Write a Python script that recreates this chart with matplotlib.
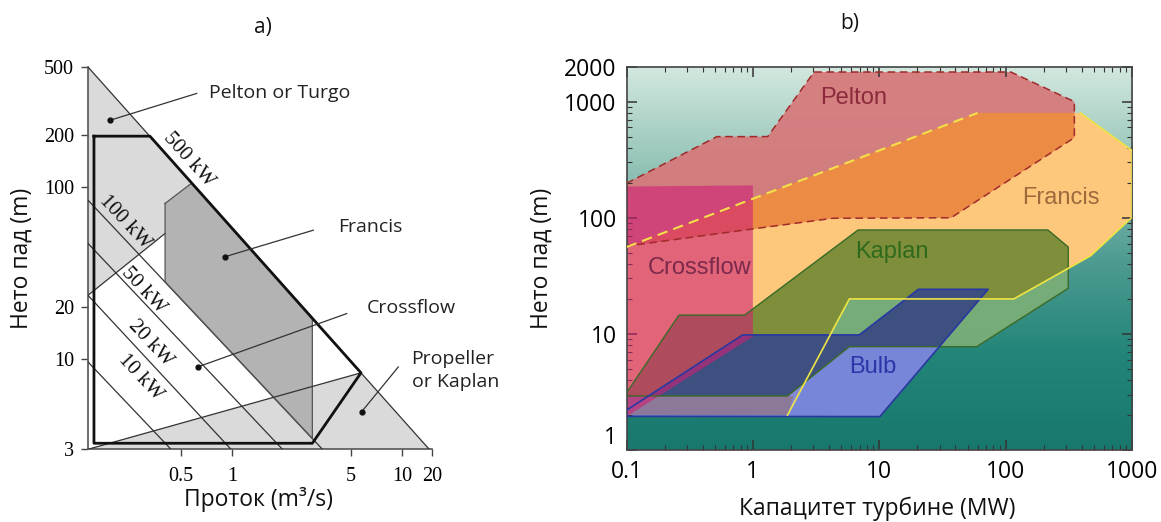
import numpy as np
import matplotlib
matplotlib.use('Agg')
import matplotlib.pyplot as plt
from matplotlib.colors import LinearSegmentedColormap
from matplotlib.ticker import NullLocator, LogLocator

# ---------------- panel a: flow (m3/s) vs net head (m) ----------------
a_xlim = (0.143, 14.9)
a_ylim = (3, 500)
a_xticks = [0.5, 1, 5, 10, 14.9]
a_xticklabels = ['0.5', '1', '5', '10', '20']
a_yticks = [3, 10, 20, 100, 200, 500]

tri_q = [0.143, 14.3]           # outer triangle hypotenuse
tri_h = [500, 3]
pelton_zone_q = [0.143, 0.58, 0.405, 0.405, 0.143]
pelton_zone_h = [500, 105.6, 80.4, 53.8, 23.5]
kaplan_zone_q = [0.145, 5.71, 14.3]
kaplan_zone_h = [3, 8.32, 3]
francis_zone_q = [0.405, 0.58, 2.96, 2.96, 0.405, 0.405]
francis_zone_h = [80.4, 105.6, 17.3, 3.45, 28.1, 80.4]
envelope_q = [0.155, 0.33, 5.71, 2.96, 0.155, 0.155]
envelope_h = [198, 198, 8.32, 3.24, 3.24, 198]

power_left_q = 0.143
power_h_left = [9.62, 23.5, 47.1, 84]        # head where the line meets the y axis
power_q_bottom = [0.437, 0.983, 1.97, 3.38]  # flow where the line meets H = 3
power_names = ['10 kW', '20 kW', '50 kW', '100 kW', '500 kW']
power_label_q = [0.289, 0.334, 0.302, 0.236, 0.554]
power_label_h = [7.85, 12.3, 25.2, 62.6, 143.5]

zone_names = ['Pelton or Turgo', 'Francis', 'Crossflow', 'Propeller\nor Kaplan']
dot_q = [0.1925, 0.91, 0.629, 5.76]
dot_h = [245, 39.4, 9.0, 4.94]
end_q = [0.621, 3.0, 4.71, 9.45]
end_h = [351, 56.2, 18.4, 9.0]
zone_label_q = [0.733, 4.2, 6.17, 11.3]
zone_label_h = [351, 58.5, 19.7, 8.63]

# ---------------- panel b: turbine capacity (MW) vs net head (m) ----------------
b_xticks = [0.1, 1, 10, 100, 1000]
b_xticklabels = ['0.1', '1', '10', '100', '1000']
b_yticks = [1, 10, 100, 1000, 2000]
b_yticklabels = ['1', '10', '100', '1000', '2000']

francis_p = [0.1, 60, 390, 1000, 1000, 470, 116, 5.8, 1.88, 0.1]
francis_h = [56, 800, 800, 380, 101, 47, 20, 20, 2.0, 2.0]
pelton_p = [0.1, 0.52, 1.31, 3.05, 110, 350, 350, 37, 4.3, 1.07, 0.1]
pelton_h = [198, 500, 500, 1800, 1800, 1000, 490, 100, 99, 81, 57]
kaplan_p = [0.1, 1.88, 5.8, 59, 313, 313, 216, 6.8, 0.86, 0.26, 0.1]
kaplan_h = [2.92, 2.92, 7.76, 7.76, 24.7, 56, 78.5, 78.5, 14.5, 14.5, 3.1]
crossflow_p = [0.1, 1, 1, 0.1]
crossflow_h = [186, 190, 9.5, 1.94]
bulb_p = [0.1, 10.1, 72.8, 20.4, 6.95, 0.83, 0.1]
bulb_h = [1.95, 1.94, 24.2, 24.2, 9.8, 9.8, 2.2]

# overlap areas, as they appear in the picture
pelton_francis_p = [0.1, 60, 350, 350, 37, 4.3, 1.07, 0.1]
pelton_francis_h = [56, 800, 800, 490, 100, 99, 81, 57]
kaplan_francis_p = [0.1, 1.88, 2.59, 5.8, 116, 313, 313, 216, 6.8, 0.86, 0.26, 0.1]
kaplan_francis_h = [2.92, 2.92, 3.86, 20, 20, 36.7, 56, 78.5, 78.5, 14.5, 14.5, 3.1]
bulb_francis_p = [0.1, 1.88, 2.1, 0.1]
bulb_francis_h = [2.0, 2.0, 2.92, 2.92]
bulb_kaplan_p = [0.149, 1.88, 5.8, 29.9, 72.8, 20.4, 6.95, 0.83]
bulb_kaplan_h = [2.92, 2.92, 7.76, 7.76, 24.2, 24.2, 9.8, 9.8]

b_names = ['Pelton', 'Francis', 'Kaplan', 'Crossflow', 'Bulb']
b_label_p = [6.3, 272, 12.6, 0.382, 8.9]
b_label_h = [1076, 148, 51, 37, 5.2]
b_label_colors = ['#8c2a3c', '#9c6a3c', '#2f6a1c', '#7c2a4c', '#2c36a8']

W, H = 1161, 522
fig = plt.figure(figsize=(W / 100, H / 100), dpi=100)

# ======== panel a ========
axa = fig.add_axes([88 / W, 73 / H, 344 / W, 382 / H])
axa.set_xscale('log')
axa.set_yscale('log')

axa.fill(pelton_zone_q, pelton_zone_h, facecolor='#dadada', edgecolor='none', zorder=1)
axa.fill(kaplan_zone_q, kaplan_zone_h, facecolor='#dadada', edgecolor='none', zorder=1)
axa.fill(francis_zone_q, francis_zone_h, facecolor='#b3b3b3', edgecolor='none', zorder=2)

line_kw = dict(color='#333333', lw=0.9, zorder=3)
axa.plot(tri_q, tri_h, **line_kw)
for h0, q1 in zip(power_h_left, power_q_bottom):
    axa.plot([power_left_q, q1], [h0, 3], **line_kw)
axa.plot(pelton_zone_q[3:], pelton_zone_h[3:], **line_kw)
axa.plot(francis_zone_q, francis_zone_h, color='#555555', lw=0.9, zorder=3)
axa.plot(kaplan_zone_q[:2], kaplan_zone_h[:2], **line_kw)
axa.plot(envelope_q, envelope_h, color='#111111', lw=2.0, zorder=4)

for name, q, h in zip(power_names, power_label_q, power_label_h):
    rot = -48 if name == '500 kW' else -47
    axa.text(q, h, name, rotation=rot, rotation_mode='anchor', ha='center', va='center',
             family='Liberation Serif', fontsize=15, color='#111111', zorder=5)

for name, dq, dh, eq, eh, lq, lh in zip(zone_names, dot_q, dot_h, end_q, end_h,
                                         zone_label_q, zone_label_h):
    axa.plot([dq, eq], [dh, eh], color='#333333', lw=0.9, zorder=5)
    axa.plot(dq, dh, 'o', ms=3.5, color='#111111', zorder=6)
    axa.text(lq, lh, name, ha='left', va='center', family='Open Sans', fontsize=14,
             color='#222222', linespacing=1.35, zorder=6)

axa.set_xlim(a_xlim)
axa.set_ylim(a_ylim)
axa.xaxis.set_minor_locator(NullLocator())
axa.yaxis.set_minor_locator(NullLocator())
axa.set_xticks(a_xticks, a_xticklabels, family='Liberation Serif', fontsize=14.5)
axa.set_yticks(a_yticks, [str(v) for v in a_yticks], family='Liberation Serif', fontsize=14.5)
axa.tick_params(direction='out', length=5, width=1, color='#444444')
axa.tick_params(axis='x', pad=8)
axa.tick_params(axis='y', pad=5)
for s in ['top', 'right']:
    axa.spines[s].set_visible(False)
for s in ['left', 'bottom']:
    axa.spines[s].set_color('#555555')
    axa.spines[s].set_linewidth(1.2)

# ======== panel b ========
rect_b = [626.5 / W, 72 / H, 505.5 / W, 383.3 / H]
bg = fig.add_axes(rect_b, zorder=0)
cmap = LinearSegmentedColormap.from_list(
    'bg', [(0, '#18786d'), (0.25, '#238579'), (0.5, '#4f9c92'), (0.75, '#96c5b9'), (1.0, '#d3e8df')])
bg.imshow(np.linspace(0, 1, 256).reshape(-1, 1), aspect='auto', cmap=cmap,
          origin='lower', extent=[0, 1, 0, 1])
bg.axis('off')

axb = fig.add_axes(rect_b, zorder=1)
axb.patch.set_visible(False)
axb.set_xscale('log')
axb.set_yscale('log')

fills = [
    (francis_p, francis_h, '#fdc87c', 1.0),
    (pelton_p, pelton_h, '#d67a7c', 0.95),
    (pelton_francis_p, pelton_francis_h, '#ec8c44', 1.0),
    (kaplan_p, kaplan_h, '#7aae78', 0.95),
    (kaplan_francis_p, kaplan_francis_h, '#7e8e3a', 1.0),
    (bulb_p, bulb_h, '#7d87de', 0.95),
    (bulb_francis_p, bulb_francis_h, '#8c7898', 1.0),
    (bulb_kaplan_p, bulb_kaplan_h, '#3e5080', 1.0),
    (crossflow_p, crossflow_h, (207 / 255, 33 / 255, 119 / 255), 0.6),
]
for i, (p, h, c, a) in enumerate(fills):
    axb.fill(p, h, facecolor=c, alpha=a, edgecolor='none', zorder=1 + i * 0.1)

axb.plot(pelton_p + pelton_p[:1], pelton_h + pelton_h[:1], color='#a02a2a', lw=1.1,
         dashes=(5, 3), zorder=3)
axb.plot(kaplan_p + kaplan_p[:1], kaplan_h + kaplan_h[:1], color='#3a6a26', lw=1.0, zorder=3)
axb.plot(bulb_p + bulb_p[:1], bulb_h + bulb_h[:1], color='#2838a0', lw=1.2, zorder=3)
axb.plot(francis_p[:2], francis_h[:2], color='#f5e04a', lw=1.5, dashes=(5, 3), zorder=3.1)
axb.plot(francis_p[2:9], francis_h[2:9], color='#eee444', lw=1.2, zorder=3.1)

for name, p, h, c in zip(b_names, b_label_p, b_label_h, b_label_colors):
    axb.text(p, h, name, ha='center', va='center', family='Liberation Sans', fontsize=17,
             color=c, zorder=4)

axb.set_xlim(0.1, 1000)
axb.set_ylim(1, 2000)
axb.xaxis.set_minor_locator(LogLocator(base=10, subs=np.arange(2, 10)))
axb.yaxis.set_minor_locator(LogLocator(base=10, subs=np.arange(2, 10)))
axb.set_xticks(b_xticks, b_xticklabels, family='Open Sans', fontsize=16.5)
axb.set_yticks(b_yticks, b_yticklabels, family='Open Sans', fontsize=16.5)
axb.get_yticklabels()[0].set_va('bottom')   # "1" sits a little above the corner
axb.tick_params(which='both', direction='in', top=True, right=True, color='#333333')
axb.tick_params(which='major', length=7, width=1.1, pad=7)
axb.tick_params(which='minor', length=3.5, width=0.8)
for s in axb.spines.values():
    s.set_color('#444444')
    s.set_linewidth(1.2)

# ======== titles and axis labels ========
txt = dict(family='Open Sans', color='#111111')
fig.text(263 / W, 1 - 27 / H, 'a)', ha='center', va='center', fontsize=15, **txt)
fig.text(850 / W, 1 - 23 / H, 'b)', ha='center', va='center', fontsize=15, **txt)
fig.text(22 / W, 1 - 258 / H, 'Нето пад (m)', rotation=90, ha='center', va='center',
         fontsize=16.5, **txt)
fig.text(542 / W, 1 - 258 / H, 'Нето пад (m)', rotation=90, ha='center', va='center',
         fontsize=16.5, **txt)
fig.text(258 / W, 1 - 499 / H, 'Проток (m³/s)', ha='center', va='center', fontsize=16.5, **txt)
fig.text(877 / W, 1 - 509 / H, 'Капацитет турбине (MW)', ha='center', va='center',
         fontsize=16.5, **txt)

fig.savefig('out.png', dpi=100)
